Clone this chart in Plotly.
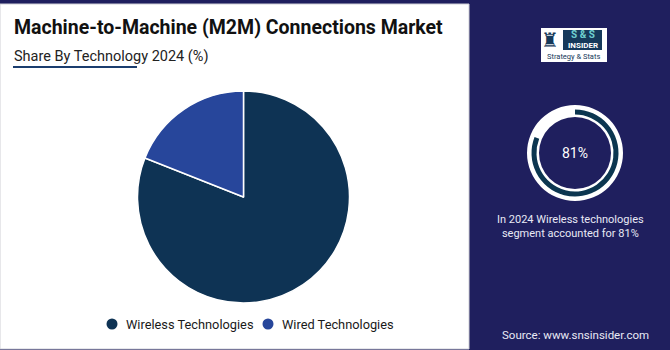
import plotly.graph_objects as go

# ---- data ----
categories = ["Wireless Technologies", "Wired Technologies"]
shares = [81, 19]
slice_colors = ["#0e3354", "#27469b"]
title_text = "Machine-to-Machine (M2M) Connections Market"
subtitle_text = "Share By Technology 2024 (%)"
highlight_label = "81%"
highlight_lines = ["In 2024 Wireless technologies", "segment accounted for 81%"]
source_text = "Source: www.snsinsider.com"

W, H = 670, 350
NAVY = "#1f1f5e"
FONT = "Roboto"


def px(x):
    return x / W


def py(y):
    return 1 - y / H


def dom(cx, cy, r):
    return dict(x=[px(cx - r), px(cx + r)], y=[py(cy + r), py(cy - r)])


fig = go.Figure()

# main pie
fig.add_trace(go.Pie(
    labels=categories, values=shares, sort=False, direction="clockwise",
    rotation=0, marker=dict(colors=slice_colors, line=dict(color="white", width=1.5)),
    textinfo="none", domain=dom(243.5, 197, 106), showlegend=False,
    hovertemplate="%{label}: %{value}%<extra></extra>",
))

# gauge: white ring
fig.add_trace(go.Pie(
    labels=["ring"], values=[100], hole=36 / 48, sort=False,
    marker=dict(colors=["#ffffff"], line=dict(width=0)), textinfo="none",
    domain=dom(575, 153, 48), showlegend=False, hoverinfo="skip",
))
# gauge: progress arc
fig.add_trace(go.Pie(
    labels=categories, values=shares, hole=38.5 / 43.5, sort=False,
    direction="clockwise", rotation=0,
    marker=dict(colors=["#0c3650", "rgba(0,0,0,0)"], line=dict(width=0)),
    textinfo="none", domain=dom(575, 153, 43.5), showlegend=False, hoverinfo="skip",
))

shapes = [
    # white card
    dict(type="rect", xref="paper", yref="paper", x0=px(0), x1=px(469), y0=py(349), y1=py(4),
         fillcolor="white", line=dict(color="#cfcfd6", width=1), layer="below"),
    # subtitle underline
    dict(type="line", xref="paper", yref="paper", x0=px(13), x1=px(137), y0=py(67), y1=py(67),
         line=dict(color="#1b3d6e", width=2)),
    # logo box
    dict(type="rect", xref="paper", yref="paper", x0=px(541), x1=px(607), y0=py(62), y1=py(28),
         fillcolor="white", line=dict(width=0), layer="below"),
    dict(type="rect", xref="paper", yref="paper", x0=px(563), x1=px(602), y0=py(50), y1=py(30),
         fillcolor="#16395a", line=dict(width=0)),
]

annotations = [
    dict(text=f"<b>{title_text}</b>", x=px(12), y=py(28), xanchor="left", yanchor="middle",
         font=dict(family=FONT, size=19.5, color="#111111")),
    dict(text=subtitle_text, x=px(12), y=py(57), xanchor="left", yanchor="middle",
         font=dict(family=FONT, size=14.5, color="#222222")),
    dict(text=highlight_label, x=px(575), y=py(153), xanchor="center", yanchor="middle",
         font=dict(family=FONT, size=14, color="white")),
    dict(text="<br>".join(highlight_lines), x=px(570), y=py(226), xanchor="center", yanchor="middle",
         align="center", font=dict(family=FONT, size=11, color="#e8e9f5")),
    dict(text=source_text, x=px(575), y=py(335), xanchor="center", yanchor="middle",
         font=dict(family=FONT, size=11.5, color="#e8e9f5")),
    # logo texts
    dict(text="\u265c", x=px(550), y=py(40), xanchor="center", yanchor="middle",
         font=dict(family="DejaVu Sans", size=20, color="#16395a")),
    dict(text="<b>S &amp; S</b>", x=px(582.5), y=py(35), xanchor="center", yanchor="middle",
         font=dict(family=FONT, size=10, color="#6fd0cf")),
    dict(text="<b>INSIDER</b>", x=px(582.5), y=py(45.5), xanchor="center", yanchor="middle",
         font=dict(family=FONT, size=8, color="white")),
    dict(text="Strategy &amp; Stats", x=px(573), y=py(57), xanchor="center", yanchor="middle",
         font=dict(family=FONT, size=7.5, color="#16395a")),
]

# legend (circles + labels)
legend_x = [112, 268]
legend_y = 324
for cat, col, lx in zip(categories, slice_colors, legend_x):
    shapes.append(dict(type="circle", xref="paper", yref="paper",
                       x0=px(lx - 5.5), x1=px(lx + 5.5), y0=py(legend_y + 5.5), y1=py(legend_y - 5.5),
                       fillcolor=col, line=dict(width=0)))
    annotations.append(dict(text=cat, x=px(lx + 12), y=py(legend_y), xanchor="left", yanchor="middle",
                            font=dict(family=FONT, size=12.8, color="#1a1a1a")))

for a in annotations:
    a.setdefault("xref", "paper")
    a.setdefault("yref", "paper")
    a.setdefault("showarrow", False)

fig.update_layout(
    width=W, height=H, margin=dict(l=0, r=0, t=0, b=0),
    paper_bgcolor=NAVY, plot_bgcolor=NAVY,
    shapes=shapes, annotations=annotations, showlegend=False,
)

fig.write_html("out.html", config={"displayModeBar": False})
